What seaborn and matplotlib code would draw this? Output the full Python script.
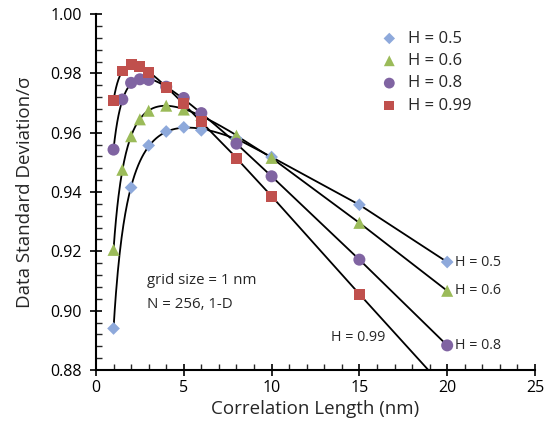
import numpy as np
import pandas as pd
import matplotlib
matplotlib.use("Agg")
import matplotlib.pyplot as plt
import seaborn as sns
from matplotlib.ticker import MultipleLocator, FormatStrFormatter

# ---- data ----
x_h05 = [1, 2, 3, 4, 5, 6, 8, 10, 15, 20]
y_h05 = [0.894, 0.9415, 0.9557, 0.9604, 0.9618, 0.9608, 0.958, 0.9518, 0.9357, 0.9164]
x_h06 = [1, 1.5, 2, 2.5, 3, 4, 5, 6, 8, 10, 15, 20]
y_h06 = [0.9205, 0.9475, 0.9588, 0.9645, 0.9674, 0.9691, 0.9678, 0.966, 0.959, 0.9515, 0.9296, 0.9067]
x_h08 = [1, 1.5, 2, 2.5, 3, 4, 5, 6, 8, 10, 15, 20]
y_h08 = [0.9543, 0.9712, 0.9768, 0.978, 0.9778, 0.9755, 0.9717, 0.9666, 0.9563, 0.9453, 0.9172, 0.8883]
x_h099 = [1, 1.5, 2, 2.5, 3, 4, 5, 6, 8, 10, 15, 20]
y_h099 = [0.9709, 0.9808, 0.983, 0.9822, 0.9804, 0.9752, 0.9698, 0.9639, 0.9514, 0.9386, 0.9056, 0.873]
series_labels = ["H = 0.5", "H = 0.6", "H = 0.8", "H = 0.99"]
x_ticks = [0, 5, 10, 15, 20, 25]
y_ticks = [0.88, 0.90, 0.92, 0.94, 0.96, 0.98, 1.00]
note_lines = ["grid size = 1 nm", "N = 256, 1-D"]

colors = ["#8EA9DB", "#9BBB59", "#8064A2", "#C0504D"]
markers = ["D", "^", "o", "s"]
msizes = [42, 75, 75, 62]

frames = []
for lab, xs, ys in zip(series_labels, [x_h05, x_h06, x_h08, x_h099],
                       [y_h05, y_h06, y_h08, y_h099]):
    frames.append(pd.DataFrame({"x": xs, "y": ys, "H": lab}))
df = pd.concat(frames, ignore_index=True)

sns.set_style("ticks")
plt.rcParams["font.family"] = ["Open Sans", "DejaVu Sans"]

fig = plt.figure(figsize=(5.5, 4.32), dpi=100)
ax = fig.add_axes([0.1745, 0.1435, 0.7982, 0.824])

# black trend lines: smooth fit for small x, straight segments beyond
for lab in series_labels:
    d = df[df["H"] == lab]
    xs = d["x"].to_numpy(float)
    ys = d["y"].to_numpy(float)
    m = xs <= 8
    A = np.column_stack([np.ones(m.sum()), np.log(xs[m]), 1 / xs[m], xs[m]])
    coef, *_ = np.linalg.lstsq(A, ys[m], rcond=None)
    xx = np.linspace(1, 8, 200)
    yy = coef[0] + coef[1] * np.log(xx) + coef[2] / xx + coef[3] * xx
    ax.plot(xx, yy, color="black", lw=1.3, zorder=2)
    tail = xs >= 8
    ax.plot(np.r_[xx[-1], xs[tail]], np.r_[yy[-1], ys[tail]], color="black", lw=1.3, zorder=2)

for lab, c, mk, s in zip(series_labels, colors, markers, msizes):
    d = df[df["H"] == lab]
    sns.scatterplot(data=d, x="x", y="y", ax=ax, color=c, marker=mk, s=s,
                    edgecolor="none", label=lab, zorder=3, clip_on=True)

ax.set_xlim(0, 25)
ax.set_ylim(0.88, 1.00)
ax.set_xticks(x_ticks)
ax.set_yticks(y_ticks)
ax.yaxis.set_major_formatter(FormatStrFormatter("%.2f"))
ax.xaxis.set_minor_locator(MultipleLocator(1))
ax.yaxis.set_minor_locator(MultipleLocator(0.004))
ax.tick_params(which="major", direction="inout", length=8, width=1.2, labelsize=11.5,
               colors="black")
ax.tick_params(axis="y", which="major", pad=6)
ax.tick_params(axis="x", which="major", pad=3)
ax.tick_params(which="minor", direction="in", length=4, width=1.0)
for side in ["top", "right"]:
    ax.spines[side].set_visible(False)
for side in ["left", "bottom"]:
    ax.spines[side].set_linewidth(1.5)
    ax.spines[side].set_color("black")

ax.set_xlabel("Correlation Length (nm)", fontsize=13.5, labelpad=3)
ax.set_ylabel("Data Standard Deviation/σ", fontsize=13.5, labelpad=12)

leg = ax.legend(loc="upper left", bbox_to_anchor=(0.615, 0.995), frameon=False,
                fontsize=12, handlelength=1.0, handletextpad=0.6, labelspacing=0.38,
                markerscale=0.9, borderpad=0.4)

# end labels
ends = [(x_h05, y_h05), (x_h06, y_h06), (x_h08, y_h08)]
for lab, (xs, ys) in zip(series_labels[:3], ends):
    ax.text(xs[-1] + 0.45, ys[-1], lab, fontsize=10.3, va="center", ha="left")
ax.text(13.4, 0.8908, series_labels[3], fontsize=10.3, va="center", ha="left")

ax.text(2.9, 0.9101, note_lines[0], fontsize=10.8, va="center", ha="left")
ax.text(2.9, 0.9020, note_lines[1], fontsize=10.8, va="center", ha="left")

fig.savefig("out.png", dpi=100)
